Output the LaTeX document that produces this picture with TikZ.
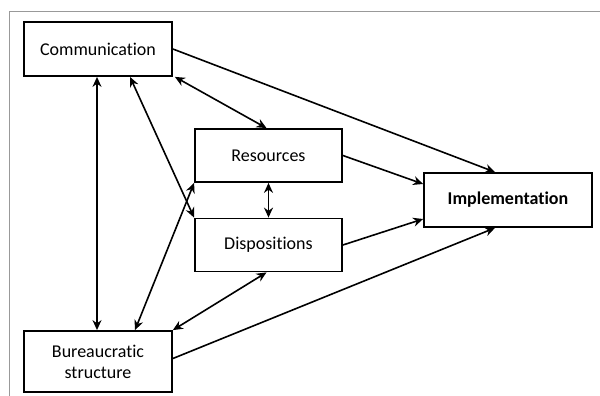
\documentclass[tikz,border=0pt]{standalone}
\usepackage{fontspec}
\setmainfont[Ligatures=NoCommon]{Carlito}
\usetikzlibrary{arrows.meta,calc}
\begin{document}
\begin{tikzpicture}[x=1pt,y=-1pt,
  box/.style={draw=black,line width=1.8pt,rectangle,fill=white,inner sep=2pt,font=\fontsize{18}{21}\selectfont,align=center},
  conn/.style={line width=1.6pt,-{Stealth[length=10pt,width=9pt]}},
  biconn/.style={line width=1.6pt,{Stealth[length=10pt,width=9pt]}-{Stealth[length=10pt,width=9pt]}},
  frame/.style={draw=black!40,line width=0.8pt}]
\useasboundingbox (0,0) rectangle (600,396);
\coordinate (fa) at (9,396);
\coordinate (fb) at (9,11);
\coordinate (fc) at (600,11);
\draw[frame] (fa) -- (fb) -- (fc);
\node[box,minimum width=148pt,minimum height=54pt] (comm) at (98,49) {Communication};
\node[box,minimum width=147pt,minimum height=53pt] (res) at (268.5,155.5) {Resources};
\node[box,minimum width=147pt,minimum height=53pt] (disp) at (268.5,245) {Dispositions};
\node[box,minimum width=148pt,minimum height=61pt] (bur) at (98,361.5) {Bureaucratic\\structure};
\node[box,minimum width=168pt,minimum height=54pt,font=\fontsize{18}{21}\selectfont\bfseries] (impl) at (508,200) {Implementation};
\draw[conn] (comm.east) -- ([xshift=-13pt]impl.north);
\draw[biconn] ([xshift=2pt]comm.south east) -- ([xshift=-2pt]res.north);
\draw[biconn] ([xshift=-1pt]comm.south) -- ([xshift=-1pt]bur.north);
\draw[biconn] ([xshift=32pt]comm.south) -- (disp.north west);
\draw[biconn] (res.south west) -- ([xshift=37pt]bur.north);
\draw[biconn] (res.south) -- (disp.north);
\draw[biconn] ([xshift=-2pt]disp.south) -- (bur.north east);
\draw[conn] (res.east) -- ([yshift=16pt]impl.west);
\draw[conn] (disp.east) -- ([yshift=-19pt]impl.west);
\draw[conn] ([yshift=3pt]bur.east) -- ([xshift=-13pt]impl.south);
\end{tikzpicture}
\end{document}
